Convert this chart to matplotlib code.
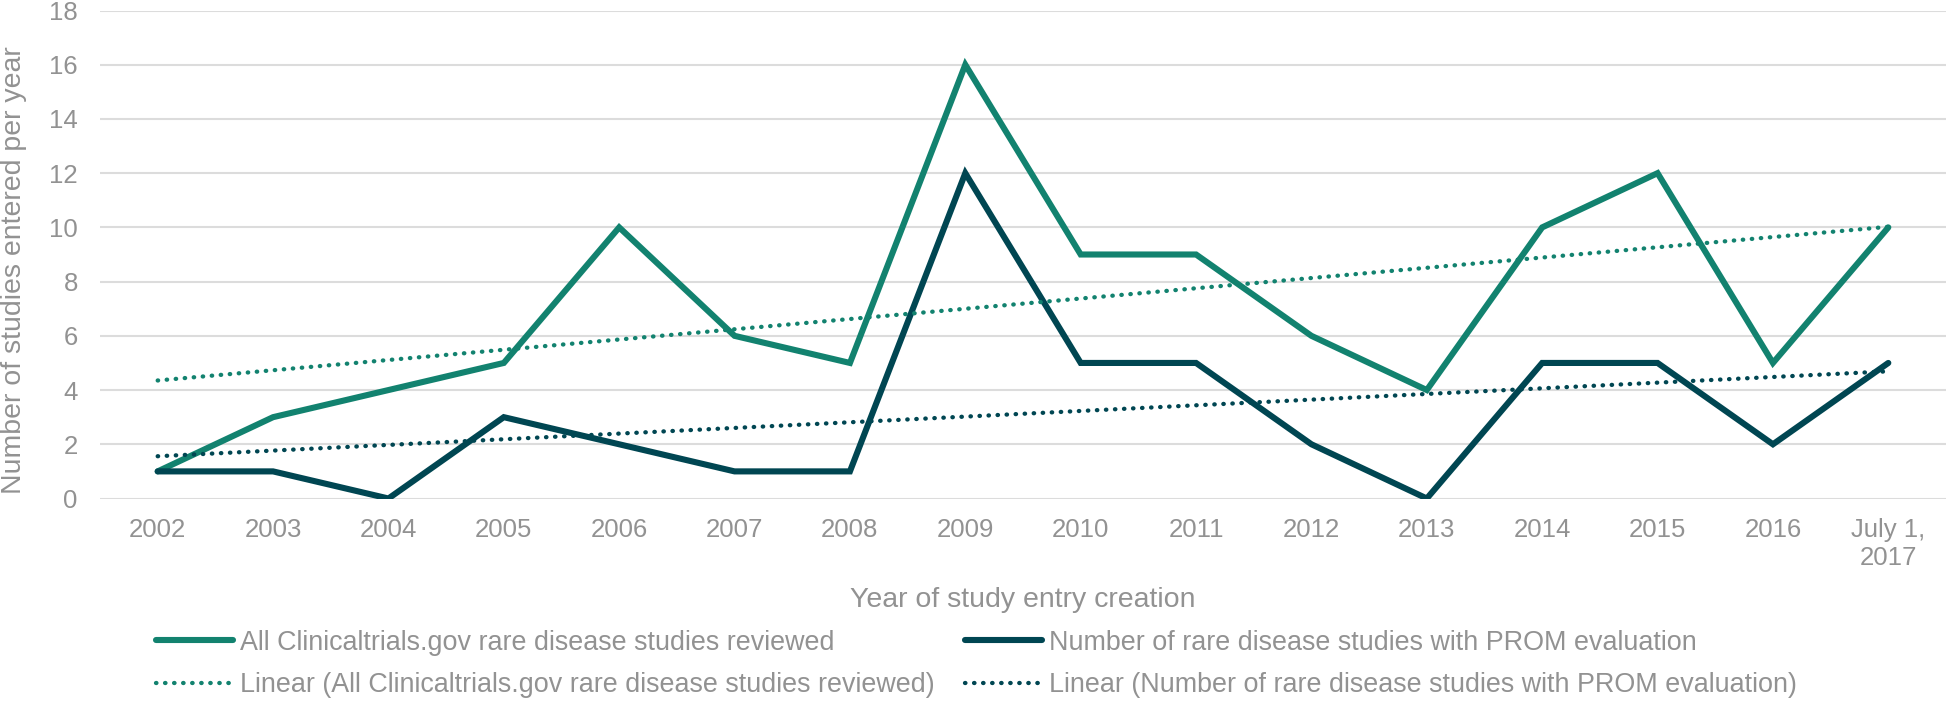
import numpy as np
import matplotlib
matplotlib.use("Agg")
import matplotlib.pyplot as plt

# data
years = ["2002", "2003", "2004", "2005", "2006", "2007", "2008", "2009",
         "2010", "2011", "2012", "2013", "2014", "2015", "2016", "July 1,\n2017"]
all_studies = [1, 3, 4, 5, 10, 6, 5, 16, 9, 9, 6, 4, 10, 12, 5, 10]
prom_studies = [1, 1, 0, 3, 2, 1, 1, 12, 5, 5, 2, 0, 5, 5, 2, 5]

label_all = "All Clinicaltrials.gov rare disease studies reviewed"
label_prom = "Number of rare disease studies with PROM evaluation"

teal = "#12826f"
dark = "#004652"
grey = "#929292"

plt.rcParams["font.family"] = ["Liberation Sans", "DejaVu Sans"]

fig = plt.figure(figsize=(19.46, 7.02), dpi=100)
ax = fig.add_axes([100 / 1946, 1 - 498.5 / 702, 1 - 100 / 1946, 488 / 702])

x = np.arange(len(years))

# linear trendlines (least squares, as Excel does)
fit_all = np.polyval(np.polyfit(x, all_studies, 1), x)
fit_prom = np.polyval(np.polyfit(x, prom_studies, 1), x)

l1, = ax.plot(x, all_studies, color=teal, lw=4.4, solid_joinstyle="miter",
              solid_capstyle="round", zorder=3)
l2, = ax.plot(x, prom_studies, color=dark, lw=4.4, solid_joinstyle="miter",
              solid_capstyle="round", zorder=3)
t1, = ax.plot(x, fit_all, color=teal, lw=3.1, dashes=(0.1, 2.0),
              dash_capstyle="round", zorder=4)
t2, = ax.plot(x, fit_prom, color=dark, lw=3.1, dashes=(0.1, 2.0),
              dash_capstyle="round", zorder=4)

ax.set_xlim(-0.5, len(years) - 0.5)
ax.set_ylim(0, 18)
ax.set_yticks(range(0, 19, 2))
ax.set_xticks(x)
ax.set_xticklabels(years)
ax.grid(axis="y", color="#dcdcdc", lw=1.5, zorder=0)
ax.set_axisbelow(True)
for s in ax.spines.values():
    s.set_visible(False)
ax.tick_params(axis="both", length=0, labelsize=18.5, labelcolor=grey)
ax.tick_params(axis="y", pad=16)
ax.tick_params(axis="x", pad=14)

ax.set_xlabel("Year of study entry creation", fontsize=20.5, color=grey)
ax.xaxis.set_label_coords(0.5, -0.182)
ax.set_ylabel("Number of studies entered per year", fontsize=20.5, color=grey)
ax.yaxis.set_label_coords(-0.0395, 0.467)

fig.legend([l1, t1, l2, t2],
           [label_all, "Linear (" + label_all + ")",
            label_prom, "Linear (" + label_prom + ")"],
           ncol=2, loc="center", bbox_to_anchor=(0.5018, 1 - 664 / 702),
           frameon=False, fontsize=19.4, labelcolor=grey, borderpad=0,
           handlelength=2.85, handletextpad=0.25, columnspacing=1.15,
           labelspacing=0.6)

fig.savefig("out.png", dpi=100)
